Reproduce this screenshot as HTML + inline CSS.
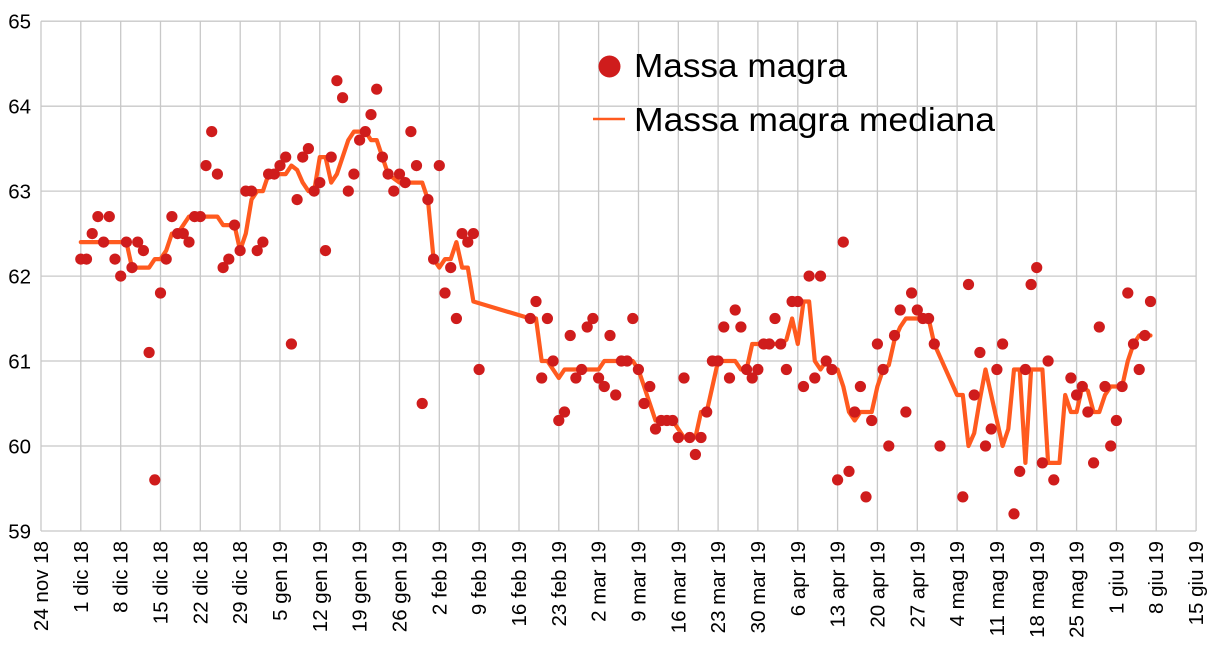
<!DOCTYPE html>
<html>
<head>
<meta charset="utf-8">
<style>
html,body{margin:0;padding:0;background:#fff;}
svg{display:block;}
text{font-family:"Liberation Sans",Arial,sans-serif;fill:#000;}
</style>
</head>
<body>
<svg width="1217" height="657" viewBox="0 0 1217 657" xmlns="http://www.w3.org/2000/svg">
<rect x="0" y="0" width="1217" height="657" fill="#fff"/>
<g stroke="#c8c8c8" stroke-width="1.3" fill="none">
<line x1="41" y1="21.2" x2="1196.1" y2="21.2"/>
<line x1="41" y1="106.2" x2="1196.1" y2="106.2"/>
<line x1="41" y1="191.1" x2="1196.1" y2="191.1"/>
<line x1="41" y1="276.1" x2="1196.1" y2="276.1"/>
<line x1="41" y1="361.0" x2="1196.1" y2="361.0"/>
<line x1="41" y1="446.0" x2="1196.1" y2="446.0"/>
<line x1="41" y1="531.0" x2="1196.1" y2="531.0"/>
<line x1="41.0" y1="21.2" x2="41.0" y2="531"/>
<line x1="80.8" y1="21.2" x2="80.8" y2="531"/>
<line x1="120.7" y1="21.2" x2="120.7" y2="531"/>
<line x1="160.5" y1="21.2" x2="160.5" y2="531"/>
<line x1="200.3" y1="21.2" x2="200.3" y2="531"/>
<line x1="240.2" y1="21.2" x2="240.2" y2="531"/>
<line x1="280.0" y1="21.2" x2="280.0" y2="531"/>
<line x1="319.8" y1="21.2" x2="319.8" y2="531"/>
<line x1="359.6" y1="21.2" x2="359.6" y2="531"/>
<line x1="399.5" y1="21.2" x2="399.5" y2="531"/>
<line x1="439.3" y1="21.2" x2="439.3" y2="531"/>
<line x1="479.1" y1="21.2" x2="479.1" y2="531"/>
<line x1="519.0" y1="21.2" x2="519.0" y2="531"/>
<line x1="558.8" y1="21.2" x2="558.8" y2="531"/>
<line x1="598.6" y1="21.2" x2="598.6" y2="531"/>
<line x1="638.5" y1="21.2" x2="638.5" y2="531"/>
<line x1="678.3" y1="21.2" x2="678.3" y2="531"/>
<line x1="718.1" y1="21.2" x2="718.1" y2="531"/>
<line x1="757.9" y1="21.2" x2="757.9" y2="531"/>
<line x1="797.8" y1="21.2" x2="797.8" y2="531"/>
<line x1="837.6" y1="21.2" x2="837.6" y2="531"/>
<line x1="877.4" y1="21.2" x2="877.4" y2="531"/>
<line x1="917.3" y1="21.2" x2="917.3" y2="531"/>
<line x1="957.1" y1="21.2" x2="957.1" y2="531"/>
<line x1="996.9" y1="21.2" x2="996.9" y2="531"/>
<line x1="1036.8" y1="21.2" x2="1036.8" y2="531"/>
<line x1="1076.6" y1="21.2" x2="1076.6" y2="531"/>
<line x1="1116.4" y1="21.2" x2="1116.4" y2="531"/>
<line x1="1156.2" y1="21.2" x2="1156.2" y2="531"/>
<line x1="1196.1" y1="21.2" x2="1196.1" y2="531"/>
</g>

<g font-size="20.5" text-anchor="end">
<text x="31" y="28.7">65</text>
<text x="31" y="113.7">64</text>
<text x="31" y="198.6">63</text>
<text x="31" y="283.6">62</text>
<text x="31" y="368.5">61</text>
<text x="31" y="453.5">60</text>
<text x="31" y="538.5">59</text>
</g>

<g font-size="20.5" text-anchor="end">
<text transform="translate(48.0,541) rotate(-90)">24 nov 18</text>
<text transform="translate(87.8,541) rotate(-90)">1 dic 18</text>
<text transform="translate(127.7,541) rotate(-90)">8 dic 18</text>
<text transform="translate(167.5,541) rotate(-90)">15 dic 18</text>
<text transform="translate(207.3,541) rotate(-90)">22 dic 18</text>
<text transform="translate(247.2,541) rotate(-90)">29 dic 18</text>
<text transform="translate(287.0,541) rotate(-90)">5 gen 19</text>
<text transform="translate(326.8,541) rotate(-90)">12 gen 19</text>
<text transform="translate(366.6,541) rotate(-90)">19 gen 19</text>
<text transform="translate(406.5,541) rotate(-90)">26 gen 19</text>
<text transform="translate(446.3,541) rotate(-90)">2 feb 19</text>
<text transform="translate(486.1,541) rotate(-90)">9 feb 19</text>
<text transform="translate(526.0,541) rotate(-90)">16 feb 19</text>
<text transform="translate(565.8,541) rotate(-90)">23 feb 19</text>
<text transform="translate(605.6,541) rotate(-90)">2 mar 19</text>
<text transform="translate(645.5,541) rotate(-90)">9 mar 19</text>
<text transform="translate(685.3,541) rotate(-90)">16 mar 19</text>
<text transform="translate(725.1,541) rotate(-90)">23 mar 19</text>
<text transform="translate(764.9,541) rotate(-90)">30 mar 19</text>
<text transform="translate(804.8,541) rotate(-90)">6 apr 19</text>
<text transform="translate(844.6,541) rotate(-90)">13 apr 19</text>
<text transform="translate(884.4,541) rotate(-90)">20 apr 19</text>
<text transform="translate(924.3,541) rotate(-90)">27 apr 19</text>
<text transform="translate(964.1,541) rotate(-90)">4 mag 19</text>
<text transform="translate(1003.9,541) rotate(-90)">11 mag 19</text>
<text transform="translate(1043.8,541) rotate(-90)">18 mag 19</text>
<text transform="translate(1083.6,541) rotate(-90)">25 mag 19</text>
<text transform="translate(1123.4,541) rotate(-90)">1 giu 19</text>
<text transform="translate(1163.2,541) rotate(-90)">8 giu 19</text>
<text transform="translate(1203.1,541) rotate(-90)">15 giu 19</text>
</g>

<polyline fill="none" stroke="#ff5a1f" stroke-width="4.2" stroke-linejoin="round" stroke-linecap="round" points="
80.8,242.1 126.4,242.1 132.0,267.6 149.1,267.6 154.8,259.1 160.5,259.1 166.2,250.6 171.9,233.6 177.6,233.6 183.3,225.1 189.0,216.6 217.4,216.6 223.1,225.1 234.5,225.1 240.1,250.6 245.8,233.6 251.5,199.6 257.2,191.1 262.9,191.1 268.6,174.1 285.7,174.1 291.4,165.6 297.1,169.9 302.7,182.6 308.4,191.1 314.1,191.1 319.8,157.1 325.5,157.1 331.2,182.6 336.9,174.1 342.6,157.1 348.3,140.1 353.9,131.6 365.3,131.6 371.0,140.1 376.7,140.1 382.4,157.1 388.1,174.1 393.8,178.4 399.5,182.6 422.2,182.6 427.9,199.6 433.6,259.1 439.3,267.6 445.0,259.1 450.7,259.1 456.4,242.1 462.1,267.6 467.8,267.6 473.4,301.5 530.3,318.5 536.0,318.5 541.7,361.0 547.4,361.0 553.1,369.5 558.8,378.0 564.5,369.5 598.6,369.5 604.3,361.0 632.8,361.0 638.4,369.5 644.1,386.5 649.8,403.5 655.5,420.5 672.6,420.5 678.3,429.0 684.0,437.5 695.4,437.5 701.0,412.0 706.7,412.0 712.4,386.5 718.1,361.0 735.2,361.0 740.9,369.5 746.6,369.5 752.2,344.0 780.7,344.0 786.4,339.8 792.1,318.5 797.8,344.0 803.5,301.5 809.1,301.5 814.8,361.0 820.5,369.5 826.2,361.0 831.9,369.5 837.6,369.5 843.3,386.5 849.0,412.0 854.7,420.5 860.4,412.0 871.7,412.0 877.4,386.5 883.1,369.5 888.8,365.2 894.5,339.8 900.2,327.0 905.9,318.5 928.6,318.5 934.3,344.0 940.0,356.8 957.1,395.0 962.8,395.0 968.5,446.0 974.2,433.2 979.9,399.2 985.5,369.5 1002.6,446.0 1008.3,429.0 1014.0,369.5 1019.7,369.5 1025.4,462.9 1031.1,369.5 1042.4,369.5 1048.1,462.9 1059.5,462.9 1065.2,395.0 1070.9,412.0 1076.6,412.0 1082.3,386.5 1087.9,390.8 1093.6,412.0 1099.3,412.0 1105.0,395.0 1110.7,386.5 1122.1,386.5 1127.8,361.0 1133.5,344.0 1139.2,335.5 1150.5,335.5"/>

<g fill="#cf1c1c">
<circle cx="80.8" cy="259.1" r="5.6"/>
<circle cx="86.5" cy="259.1" r="5.6"/>
<circle cx="92.2" cy="233.6" r="5.6"/>
<circle cx="97.9" cy="216.6" r="5.6"/>
<circle cx="103.6" cy="242.1" r="5.6"/>
<circle cx="109.3" cy="216.6" r="5.6"/>
<circle cx="115.0" cy="259.1" r="5.6"/>
<circle cx="120.7" cy="276.1" r="5.6"/>
<circle cx="126.4" cy="242.1" r="5.6"/>
<circle cx="132.0" cy="267.6" r="5.6"/>
<circle cx="137.7" cy="242.1" r="5.6"/>
<circle cx="143.4" cy="250.6" r="5.6"/>
<circle cx="149.1" cy="352.5" r="5.6"/>
<circle cx="154.8" cy="479.9" r="5.6"/>
<circle cx="160.5" cy="293.0" r="5.6"/>
<circle cx="166.2" cy="259.1" r="5.6"/>
<circle cx="171.9" cy="216.6" r="5.6"/>
<circle cx="177.6" cy="233.6" r="5.6"/>
<circle cx="183.3" cy="233.6" r="5.6"/>
<circle cx="189.0" cy="242.1" r="5.6"/>
<circle cx="194.6" cy="216.6" r="5.6"/>
<circle cx="200.3" cy="216.6" r="5.6"/>
<circle cx="206.0" cy="165.6" r="5.6"/>
<circle cx="211.7" cy="131.6" r="5.6"/>
<circle cx="217.4" cy="174.1" r="5.6"/>
<circle cx="223.1" cy="267.6" r="5.6"/>
<circle cx="228.8" cy="259.1" r="5.6"/>
<circle cx="234.5" cy="225.1" r="5.6"/>
<circle cx="240.1" cy="250.6" r="5.6"/>
<circle cx="245.8" cy="191.1" r="5.6"/>
<circle cx="251.5" cy="191.1" r="5.6"/>
<circle cx="257.2" cy="250.6" r="5.6"/>
<circle cx="262.9" cy="242.1" r="5.6"/>
<circle cx="268.6" cy="174.1" r="5.6"/>
<circle cx="274.3" cy="174.1" r="5.6"/>
<circle cx="280.0" cy="165.6" r="5.6"/>
<circle cx="285.7" cy="157.1" r="5.6"/>
<circle cx="291.4" cy="344.0" r="5.6"/>
<circle cx="297.1" cy="199.6" r="5.6"/>
<circle cx="302.7" cy="157.1" r="5.6"/>
<circle cx="308.4" cy="148.6" r="5.6"/>
<circle cx="314.1" cy="191.1" r="5.6"/>
<circle cx="319.8" cy="182.6" r="5.6"/>
<circle cx="325.5" cy="250.6" r="5.6"/>
<circle cx="331.2" cy="157.1" r="5.6"/>
<circle cx="336.9" cy="80.7" r="5.6"/>
<circle cx="342.6" cy="97.7" r="5.6"/>
<circle cx="348.3" cy="191.1" r="5.6"/>
<circle cx="353.9" cy="174.1" r="5.6"/>
<circle cx="359.6" cy="140.1" r="5.6"/>
<circle cx="365.3" cy="131.6" r="5.6"/>
<circle cx="371.0" cy="114.6" r="5.6"/>
<circle cx="376.7" cy="89.2" r="5.6"/>
<circle cx="382.4" cy="157.1" r="5.6"/>
<circle cx="388.1" cy="174.1" r="5.6"/>
<circle cx="393.8" cy="191.1" r="5.6"/>
<circle cx="399.5" cy="174.1" r="5.6"/>
<circle cx="405.2" cy="182.6" r="5.6"/>
<circle cx="410.9" cy="131.6" r="5.6"/>
<circle cx="416.5" cy="165.6" r="5.6"/>
<circle cx="422.2" cy="403.5" r="5.6"/>
<circle cx="427.9" cy="199.6" r="5.6"/>
<circle cx="433.6" cy="259.1" r="5.6"/>
<circle cx="439.3" cy="165.6" r="5.6"/>
<circle cx="445.0" cy="293.0" r="5.6"/>
<circle cx="450.7" cy="267.6" r="5.6"/>
<circle cx="456.4" cy="318.5" r="5.6"/>
<circle cx="462.1" cy="233.6" r="5.6"/>
<circle cx="467.8" cy="242.1" r="5.6"/>
<circle cx="473.4" cy="233.6" r="5.6"/>
<circle cx="479.1" cy="369.5" r="5.6"/>
<circle cx="530.3" cy="318.5" r="5.6"/>
<circle cx="536.0" cy="301.5" r="5.6"/>
<circle cx="541.7" cy="378.0" r="5.6"/>
<circle cx="547.4" cy="318.5" r="5.6"/>
<circle cx="553.1" cy="361.0" r="5.6"/>
<circle cx="558.8" cy="420.5" r="5.6"/>
<circle cx="564.5" cy="412.0" r="5.6"/>
<circle cx="570.2" cy="335.5" r="5.6"/>
<circle cx="575.9" cy="378.0" r="5.6"/>
<circle cx="581.6" cy="369.5" r="5.6"/>
<circle cx="587.2" cy="327.0" r="5.6"/>
<circle cx="592.9" cy="318.5" r="5.6"/>
<circle cx="598.6" cy="378.0" r="5.6"/>
<circle cx="604.3" cy="386.5" r="5.6"/>
<circle cx="610.0" cy="335.5" r="5.6"/>
<circle cx="615.7" cy="395.0" r="5.6"/>
<circle cx="621.4" cy="361.0" r="5.6"/>
<circle cx="627.1" cy="361.0" r="5.6"/>
<circle cx="632.8" cy="318.5" r="5.6"/>
<circle cx="638.4" cy="369.5" r="5.6"/>
<circle cx="644.1" cy="403.5" r="5.6"/>
<circle cx="649.8" cy="386.5" r="5.6"/>
<circle cx="655.5" cy="429.0" r="5.6"/>
<circle cx="661.2" cy="420.5" r="5.6"/>
<circle cx="666.9" cy="420.5" r="5.6"/>
<circle cx="672.6" cy="420.5" r="5.6"/>
<circle cx="678.3" cy="437.5" r="5.6"/>
<circle cx="684.0" cy="378.0" r="5.6"/>
<circle cx="689.7" cy="437.5" r="5.6"/>
<circle cx="695.4" cy="454.5" r="5.6"/>
<circle cx="701.0" cy="437.5" r="5.6"/>
<circle cx="706.7" cy="412.0" r="5.6"/>
<circle cx="712.4" cy="361.0" r="5.6"/>
<circle cx="718.1" cy="361.0" r="5.6"/>
<circle cx="723.8" cy="327.0" r="5.6"/>
<circle cx="729.5" cy="378.0" r="5.6"/>
<circle cx="735.2" cy="310.0" r="5.6"/>
<circle cx="740.9" cy="327.0" r="5.6"/>
<circle cx="746.6" cy="369.5" r="5.6"/>
<circle cx="752.2" cy="378.0" r="5.6"/>
<circle cx="757.9" cy="369.5" r="5.6"/>
<circle cx="763.6" cy="344.0" r="5.6"/>
<circle cx="769.3" cy="344.0" r="5.6"/>
<circle cx="775.0" cy="318.5" r="5.6"/>
<circle cx="780.7" cy="344.0" r="5.6"/>
<circle cx="786.4" cy="369.5" r="5.6"/>
<circle cx="792.1" cy="301.5" r="5.6"/>
<circle cx="797.8" cy="301.5" r="5.6"/>
<circle cx="803.5" cy="386.5" r="5.6"/>
<circle cx="809.1" cy="276.1" r="5.6"/>
<circle cx="814.8" cy="378.0" r="5.6"/>
<circle cx="820.5" cy="276.1" r="5.6"/>
<circle cx="826.2" cy="361.0" r="5.6"/>
<circle cx="831.9" cy="369.5" r="5.6"/>
<circle cx="837.6" cy="479.9" r="5.6"/>
<circle cx="843.3" cy="242.1" r="5.6"/>
<circle cx="849.0" cy="471.4" r="5.6"/>
<circle cx="854.7" cy="412.0" r="5.6"/>
<circle cx="860.4" cy="386.5" r="5.6"/>
<circle cx="866.0" cy="496.9" r="5.6"/>
<circle cx="871.7" cy="420.5" r="5.6"/>
<circle cx="877.4" cy="344.0" r="5.6"/>
<circle cx="883.1" cy="369.5" r="5.6"/>
<circle cx="888.8" cy="446.0" r="5.6"/>
<circle cx="894.5" cy="335.5" r="5.6"/>
<circle cx="900.2" cy="310.0" r="5.6"/>
<circle cx="905.9" cy="412.0" r="5.6"/>
<circle cx="911.6" cy="293.0" r="5.6"/>
<circle cx="917.3" cy="310.0" r="5.6"/>
<circle cx="922.9" cy="318.5" r="5.6"/>
<circle cx="928.6" cy="318.5" r="5.6"/>
<circle cx="934.3" cy="344.0" r="5.6"/>
<circle cx="940.0" cy="446.0" r="5.6"/>
<circle cx="962.8" cy="496.9" r="5.6"/>
<circle cx="968.5" cy="284.5" r="5.6"/>
<circle cx="974.2" cy="395.0" r="5.6"/>
<circle cx="979.9" cy="352.5" r="5.6"/>
<circle cx="985.5" cy="446.0" r="5.6"/>
<circle cx="991.2" cy="429.0" r="5.6"/>
<circle cx="996.9" cy="369.5" r="5.6"/>
<circle cx="1002.6" cy="344.0" r="5.6"/>
<circle cx="1014.0" cy="513.9" r="5.6"/>
<circle cx="1019.7" cy="471.4" r="5.6"/>
<circle cx="1025.4" cy="369.5" r="5.6"/>
<circle cx="1031.1" cy="284.5" r="5.6"/>
<circle cx="1036.7" cy="267.6" r="5.6"/>
<circle cx="1042.4" cy="462.9" r="5.6"/>
<circle cx="1048.1" cy="361.0" r="5.6"/>
<circle cx="1053.8" cy="479.9" r="5.6"/>
<circle cx="1070.9" cy="378.0" r="5.6"/>
<circle cx="1076.6" cy="395.0" r="5.6"/>
<circle cx="1082.3" cy="386.5" r="5.6"/>
<circle cx="1087.9" cy="412.0" r="5.6"/>
<circle cx="1093.6" cy="462.9" r="5.6"/>
<circle cx="1099.3" cy="327.0" r="5.6"/>
<circle cx="1105.0" cy="386.5" r="5.6"/>
<circle cx="1110.7" cy="446.0" r="5.6"/>
<circle cx="1116.4" cy="420.5" r="5.6"/>
<circle cx="1122.1" cy="386.5" r="5.6"/>
<circle cx="1127.8" cy="293.0" r="5.6"/>
<circle cx="1133.5" cy="344.0" r="5.6"/>
<circle cx="1139.2" cy="369.5" r="5.6"/>
<circle cx="1144.8" cy="335.5" r="5.6"/>
<circle cx="1150.5" cy="301.5" r="5.6"/>
</g>

<circle cx="609.5" cy="66.5" r="11" fill="#cf1c1c"/>
<text x="634" y="77" font-size="33" textLength="213" lengthAdjust="spacingAndGlyphs">Massa magra</text>
<line x1="593" y1="119" x2="625" y2="119" stroke="#ff5a1f" stroke-width="2.6"/>
<text x="634" y="131" font-size="33" textLength="361" lengthAdjust="spacingAndGlyphs">Massa magra mediana</text>
</svg>
</body>
</html>
